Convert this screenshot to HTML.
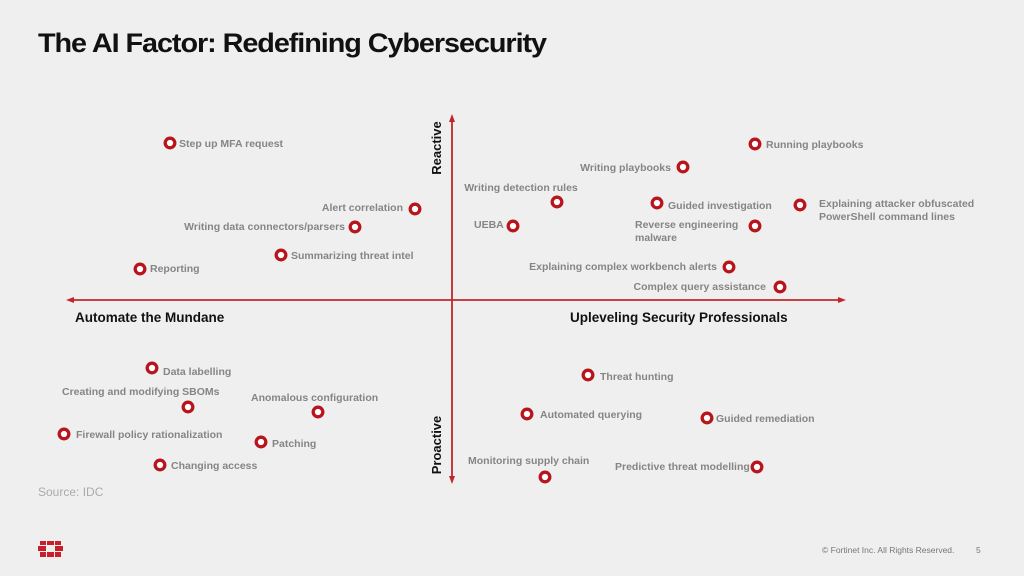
<!DOCTYPE html>
<html><head><meta charset="utf-8"><style>
html,body{margin:0;padding:0;background:#efefef;}
svg{display:block;font-family:"Liberation Sans",sans-serif;}
.l{font-size:10.5px;font-weight:bold;fill:#858585;}
.c{fill:#fff;stroke:#b8141c;stroke-width:3.3;}
</style></head><body>
<svg width="1024" height="576" viewBox="0 0 1024 576" xmlns="http://www.w3.org/2000/svg">
<rect width="1024" height="576" fill="#efefef"/>
<text x="38" y="52" font-size="27" font-weight="bold" fill="#111" letter-spacing="-1" textLength="508" lengthAdjust="spacingAndGlyphs">The AI Factor: Redefining Cybersecurity</text>
<g stroke="#c0272d" stroke-width="1.8" fill="#c0272d">
<line x1="72" y1="300" x2="840" y2="300"/>
<polygon points="66,300 74,297 74,303" stroke="none"/>
<polygon points="846,300 838,297 838,303" stroke="none"/>
<line x1="452" y1="120" x2="452" y2="478"/>
<polygon points="452,114 449,122 455,122" stroke="none"/>
<polygon points="452,484 449,476 455,476" stroke="none"/>
</g>
<text transform="translate(441,148) rotate(-90)" text-anchor="middle" font-size="13" font-weight="bold" fill="#111">Reactive</text>
<text transform="translate(441,445) rotate(-90)" text-anchor="middle" font-size="13" font-weight="bold" fill="#111">Proactive</text>
<text x="75" y="322" font-size="13.5" font-weight="bold" fill="#111">Automate the Mundane</text>
<text x="570" y="322" font-size="13.5" font-weight="bold" fill="#111">Upleveling Security Professionals</text>
<g>
<circle class="c" cx="170" cy="143" r="4.8"/><text class="l" x="179" y="147">Step up MFA request</text>
<circle class="c" cx="415" cy="209" r="4.8"/><text class="l" x="403" y="211" text-anchor="end">Alert correlation</text>
<circle class="c" cx="355" cy="227" r="4.8"/><text class="l" x="345" y="230" text-anchor="end">Writing data connectors/parsers</text>
<circle class="c" cx="281" cy="255" r="4.8"/><text class="l" x="291" y="259">Summarizing threat intel</text>
<circle class="c" cx="140" cy="269" r="4.8"/><text class="l" x="150" y="272">Reporting</text>
<circle class="c" cx="755" cy="144" r="4.8"/><text class="l" x="766" y="148">Running playbooks</text>
<circle class="c" cx="683" cy="167" r="4.8"/><text class="l" x="671" y="171" text-anchor="end">Writing playbooks</text>
<text class="l" x="521" y="191" text-anchor="middle">Writing detection rules</text><circle class="c" cx="557" cy="202" r="4.8"/>
<circle class="c" cx="657" cy="203" r="4.8"/><text class="l" x="668" y="209">Guided investigation</text>
<circle class="c" cx="800" cy="205" r="4.8"/><text class="l" x="819" y="207">Explaining attacker obfuscated</text><text class="l" x="819" y="220">PowerShell command lines</text>
<text class="l" x="474" y="228">UEBA</text><circle class="c" cx="513" cy="226" r="4.8"/>
<text class="l" x="635" y="228">Reverse engineering</text><text class="l" x="635" y="241">malware</text><circle class="c" cx="755" cy="226" r="4.8"/>
<text class="l" x="717" y="270" text-anchor="end">Explaining complex workbench alerts</text><circle class="c" cx="729" cy="267" r="4.8"/>
<text class="l" x="766" y="290" text-anchor="end">Complex query assistance</text><circle class="c" cx="780" cy="287" r="4.8"/>
<circle class="c" cx="152" cy="368" r="4.8"/><text class="l" x="163" y="375">Data labelling</text>
<text class="l" x="62" y="395">Creating and modifying SBOMs</text><circle class="c" cx="188" cy="407" r="4.8"/>
<text class="l" x="251" y="401">Anomalous configuration</text><circle class="c" cx="318" cy="412" r="4.8"/>
<circle class="c" cx="64" cy="434" r="4.8"/><text class="l" x="76" y="438">Firewall policy rationalization</text>
<circle class="c" cx="261" cy="442" r="4.8"/><text class="l" x="272" y="447">Patching</text>
<circle class="c" cx="160" cy="465" r="4.8"/><text class="l" x="171" y="469">Changing access</text>
<circle class="c" cx="588" cy="375" r="4.8"/><text class="l" x="600" y="380">Threat hunting</text>
<circle class="c" cx="527" cy="414" r="4.8"/><text class="l" x="540" y="418">Automated querying</text>
<circle class="c" cx="707" cy="418" r="4.8"/><text class="l" x="716" y="422">Guided remediation</text>
<text class="l" x="468" y="464">Monitoring supply chain</text><circle class="c" cx="545" cy="477" r="4.8"/>
<text class="l" x="615" y="470">Predictive threat modelling</text><circle class="c" cx="757" cy="467" r="4.8"/>
</g>
<text x="38" y="496" font-size="12" fill="#aaa">Source: IDC</text>
<g fill="#c8202a">
<rect x="40" y="541" width="6" height="4"/><rect x="47" y="541" width="7" height="4"/><rect x="55" y="541" width="6" height="4"/>
<rect x="38" y="546" width="8" height="5"/><rect x="55" y="546" width="8" height="5"/>
<rect x="40" y="552" width="6" height="5"/><rect x="47" y="552" width="7" height="5"/><rect x="55" y="552" width="6" height="5"/>
</g>
<text x="822" y="553" font-size="8.5" fill="#777">© Fortinet Inc. All Rights Reserved.</text>
<text x="976" y="553" font-size="8.5" fill="#777">5</text>
</svg>
</body></html>
